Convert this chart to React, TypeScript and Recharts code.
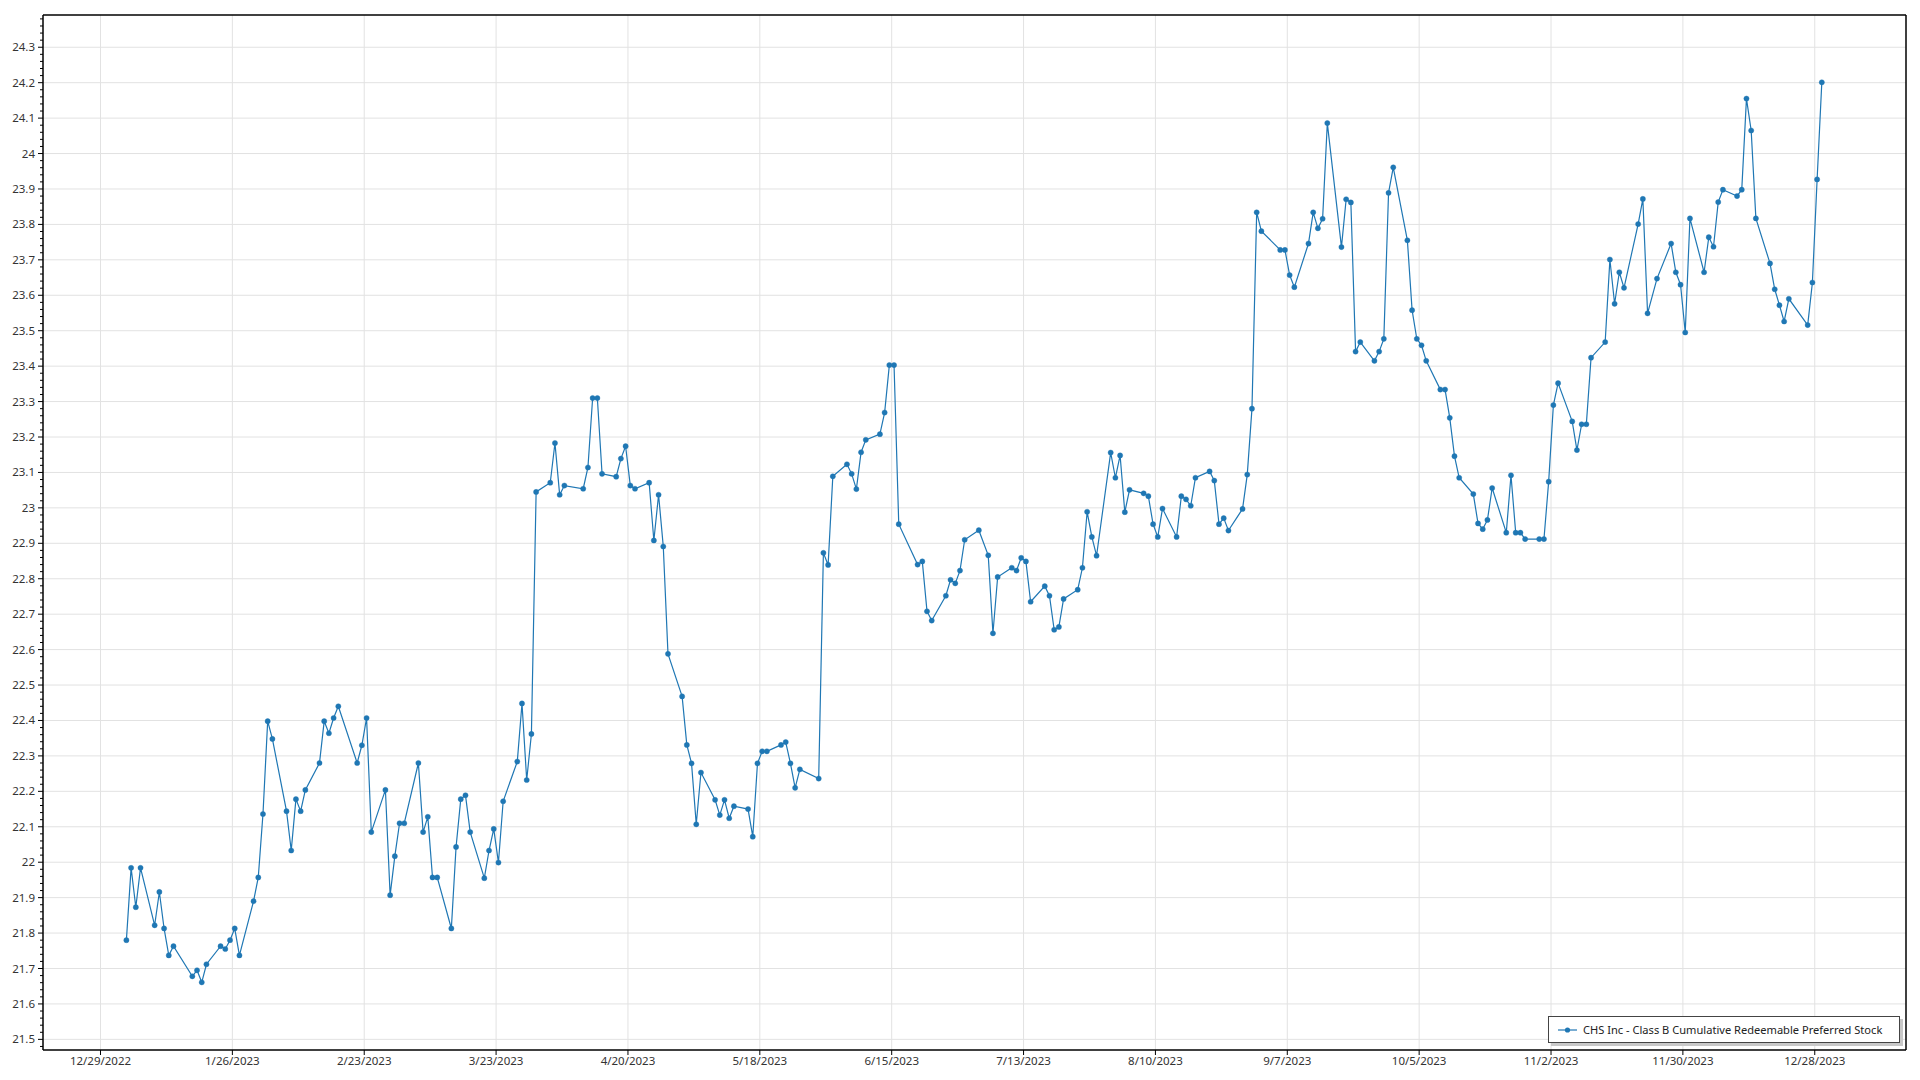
import React from 'react';
import { LineChart, Line, XAxis, YAxis, CartesianGrid, Legend, ReferenceLine } from 'recharts';

// Trading days per month (2023) and the matching prices
const JAN_DAYS = [3, 4, 5, 6, 9, 10, 11, 12, 13, 17, 18, 19, 20, 23, 24, 25, 26, 27, 30, 31];
const JAN_PRICES = [21.78, 21.984, 21.873, 21.984, 21.822, 21.916, 21.813, 21.737, 21.763, 21.678, 21.695, 21.661, 21.712, 21.763, 21.755, 21.78, 21.813, 21.737, 21.89, 21.957];

const FEB_DAYS = [1, 2, 3, 6, 7, 8, 9, 10, 13, 14, 15, 16, 17, 21, 22, 23, 24, 27, 28];
const FEB_PRICES = [22.136, 22.398, 22.348, 22.144, 22.033, 22.178, 22.144, 22.204, 22.28, 22.398, 22.364, 22.407, 22.44, 22.28, 22.33, 22.407, 22.085, 22.204, 21.907];

const MAR_DAYS = [1, 2, 3, 6, 7, 8, 9, 10, 13, 14, 15, 16, 17, 20, 21, 22, 23, 24, 27, 28, 29, 30, 31];
const MAR_PRICES = [22.017, 22.11, 22.11, 22.28, 22.085, 22.128, 21.957, 21.957, 21.813, 22.043, 22.178, 22.189, 22.085, 21.955, 22.033, 22.094, 21.999, 22.172, 22.284, 22.448, 22.232, 22.362, 23.045];

const APR_DAYS = [3, 4, 5, 6, 10, 11, 12, 13, 14, 17, 18, 19, 20, 21, 24, 25, 26, 27, 28];
const APR_PRICES = [23.071, 23.183, 23.037, 23.063, 23.054, 23.114, 23.31, 23.31, 23.096, 23.088, 23.139, 23.174, 23.063, 23.054, 23.071, 22.908, 23.037, 22.891, 22.588];

const MAY_DAYS = [1, 2, 3, 4, 5, 8, 9, 10, 11, 12, 15, 16, 17, 18, 19, 22, 23, 24, 25, 26, 30, 31];
const MAY_PRICES = [22.468, 22.331, 22.279, 22.107, 22.253, 22.176, 22.133, 22.176, 22.124, 22.158, 22.15, 22.072, 22.279, 22.313, 22.313, 22.331, 22.339, 22.279, 22.21, 22.262, 22.236, 22.873];

const JUN_DAYS = [1, 2, 5, 6, 7, 8, 9, 12, 13, 14, 15, 16, 20, 21, 22, 23, 26, 27, 28, 29, 30];
const JUN_PRICES = [22.839, 23.089, 23.123, 23.096, 23.053, 23.157, 23.192, 23.208, 23.269, 23.403, 23.403, 22.954, 22.84, 22.849, 22.708, 22.682, 22.752, 22.797, 22.787, 22.823, 22.91];

const JUL_DAYS = [3, 5, 6, 7, 10, 11, 12, 13, 14, 17, 18, 19, 20, 21, 24, 25, 26, 27, 28, 31];
const JUL_PRICES = [22.937, 22.866, 22.646, 22.805, 22.831, 22.823, 22.859, 22.849, 22.735, 22.779, 22.752, 22.656, 22.664, 22.743, 22.769, 22.831, 22.989, 22.918, 22.865, 23.156];

const AUG_DAYS = [1, 2, 3, 4, 7, 8, 9, 10, 11, 14, 15, 16, 17, 18, 21, 22, 23, 24, 25, 28, 29, 30, 31];
const AUG_PRICES = [23.085, 23.148, 22.988, 23.051, 23.041, 23.033, 22.954, 22.918, 22.998, 22.918, 23.033, 23.024, 23.006, 23.085, 23.103, 23.077, 22.954, 22.971, 22.936, 22.997, 23.094, 23.28, 23.834];

const SEP_DAYS = [1, 5, 6, 7, 8, 11, 12, 13, 14, 15, 18, 19, 20, 21, 22, 25, 26, 27, 28, 29];
const SEP_PRICES = [23.781, 23.728, 23.728, 23.657, 23.623, 23.746, 23.834, 23.789, 23.816, 24.086, 23.736, 23.871, 23.862, 23.441, 23.468, 23.415, 23.441, 23.477, 23.889, 23.961];

const OCT_DAYS = [2, 3, 4, 5, 6, 9, 10, 11, 12, 13, 16, 17, 18, 19, 20, 23, 24, 25, 26, 27, 30, 31];
const OCT_PRICES = [23.755, 23.558, 23.477, 23.459, 23.415, 23.334, 23.334, 23.254, 23.146, 23.085, 23.039, 22.956, 22.94, 22.966, 23.056, 22.93, 23.092, 22.93, 22.93, 22.912, 22.912, 22.912];

const NOV_DAYS = [1, 2, 3, 6, 7, 8, 9, 10, 13, 14, 15, 16, 17, 20, 21, 22, 24, 27, 28, 29, 30];
const NOV_PRICES = [23.074, 23.29, 23.352, 23.244, 23.163, 23.236, 23.236, 23.424, 23.468, 23.701, 23.576, 23.665, 23.621, 23.801, 23.872, 23.549, 23.647, 23.746, 23.665, 23.63, 23.495];

const DEC_DAYS = [1, 4, 5, 6, 7, 8, 11, 12, 13, 14, 15, 18, 19, 20, 21, 22, 26, 27, 28, 29];
const DEC_PRICES = [23.817, 23.665, 23.764, 23.737, 23.863, 23.898, 23.88, 23.898, 24.155, 24.065, 23.817, 23.69, 23.617, 23.572, 23.526, 23.59, 23.516, 23.636, 23.927, 24.201];

const X_TICK_DATES = ['2022-12-29', '2023-01-26', '2023-02-23', '2023-03-23', '2023-04-20', '2023-05-18', '2023-06-15', '2023-07-13', '2023-08-10', '2023-09-07', '2023-10-05', '2023-11-02', '2023-11-30', '2023-12-28'];
const Y_TICKS = [21.5, 21.6, 21.7, 21.8, 21.9, 22, 22.1, 22.2, 22.3, 22.4, 22.5, 22.6, 22.7, 22.8, 22.9, 23, 23.1, 23.2, 23.3, 23.4, 23.5, 23.6, 23.7, 23.8, 23.9, 24, 24.1, 24.2, 24.3];

const SERIES_NAME = 'CHS Inc - Class B Cumulative Redeemable Preferred Stock';
const BLUE = '#1f77b4';
const FONT = "'Noto Sans', 'DejaVu Sans', sans-serif";

const MONTHS: [number, number[], number[]][] = [
  [1, JAN_DAYS, JAN_PRICES], [2, FEB_DAYS, FEB_PRICES], [3, MAR_DAYS, MAR_PRICES],
  [4, APR_DAYS, APR_PRICES], [5, MAY_DAYS, MAY_PRICES], [6, JUN_DAYS, JUN_PRICES],
  [7, JUL_DAYS, JUL_PRICES], [8, AUG_DAYS, AUG_PRICES], [9, SEP_DAYS, SEP_PRICES],
  [10, OCT_DAYS, OCT_PRICES], [11, NOV_DAYS, NOV_PRICES], [12, DEC_DAYS, DEC_PRICES],
];

// points sit at mid-day, like the source chart
const data = MONTHS.flatMap(([m, days, prices]) =>
  days.map((d, i) => ({ t: Date.UTC(2023, m - 1, d, 12), price: prices[i] }))
);

const parseDate = (s: string) => {
  const [y, m, d] = s.split('-').map(Number);
  return Date.UTC(y, m - 1, d);
};
const xTicks = X_TICK_DATES.map(parseDate);

const X_MIN = Date.UTC(2022, 11, 16, 19);
const X_MAX = Date.UTC(2024, 0, 16, 9);
const Y_MIN = 21.47;
const Y_MAX = 24.391;

// minor ticks every 0.02 between the labelled ones
const minorTicks: number[] = [];
for (let v = 21.48; v < Y_MAX; v += 0.02) {
  const r = Math.round(v * 100) / 100;
  if (!Y_TICKS.some((t) => Math.abs(t - r) < 1e-6)) minorTicks.push(r);
}
const yAllTicks = [...Y_TICKS, ...minorTicks].sort((a, b) => a - b);

const TICK_SIZE = 5;
const TICK_MARGIN = 3;

const fmtDate = (t: number) => {
  const d = new Date(t);
  return `${d.getUTCMonth() + 1}/${d.getUTCDate()}/${d.getUTCFullYear()}`;
};

const YTick = (props: any) => {
  const { x, y, payload } = props;
  const v = payload.value as number;
  const major = Y_TICKS.some((t) => Math.abs(t - v) < 1e-6);
  const axisX = x + TICK_SIZE + TICK_MARGIN;
  return (
    <g>
      <line x1={axisX - (major ? 5 : 3)} x2={axisX} y1={y} y2={y} stroke="#000" strokeWidth={1} />
      {major && (
        <text x={x} y={y} dy={4} textAnchor="end" fill="#333" fontSize={11.5} fontFamily={FONT}>
          {String(v)}
        </text>
      )}
    </g>
  );
};

const LegendBox = () => (
  <div
    style={{
      width: 350,
      height: 25,
      border: '1px solid #444',
      background: '#fff',
      boxShadow: '3px 3px 0 #c8c8c8',
      display: 'flex',
      alignItems: 'center',
      fontFamily: FONT,
      fontSize: 11.1,
      color: '#222',
      whiteSpace: 'nowrap',
    }}
  >
    <svg width={26} height={12} style={{ marginLeft: 6 }}>
      <line x1={3} x2={22} y1={6} y2={6} stroke={BLUE} strokeOpacity={0.6} strokeWidth={2} />
      <circle cx={12.5} cy={6} r={2.6} fill={BLUE} />
    </svg>
    <span style={{ marginLeft: 2 }}>{SERIES_NAME}</span>
  </div>
);

export default function App() {
  return (
    <div style={{ position: 'absolute', left: 0, top: 0, width: 1920, height: 1080, background: '#fff' }}>
      <LineChart width={1920} height={1080} data={data} margin={{ top: 15, right: 14, bottom: 0, left: 0 }}>
        <CartesianGrid stroke="#e2e2e2" horizontalValues={Y_TICKS} verticalValues={xTicks} />
        <XAxis
          dataKey="t"
          type="number"
          scale="linear"
          domain={[X_MIN, X_MAX]}
          allowDataOverflow
          ticks={xTicks}
          interval={0}
          tickFormatter={fmtDate}
          height={30}
          tickSize={TICK_SIZE}
          tickMargin={2}
          axisLine={{ stroke: '#000', strokeWidth: 1.5 }}
          tickLine={{ stroke: '#000' }}
          tick={{ fill: '#333', fontSize: 11.5, fontFamily: FONT }}
        />
        <YAxis
          type="number"
          domain={[Y_MIN, Y_MAX]}
          allowDataOverflow
          ticks={yAllTicks}
          interval={0}
          width={43}
          tickSize={TICK_SIZE}
          tickMargin={TICK_MARGIN}
          tickLine={false}
          axisLine={{ stroke: '#000', strokeWidth: 1.5 }}
          tick={<YTick />}
        />
        <ReferenceLine y={Y_MAX} stroke="#000" strokeWidth={1.5} />
        <ReferenceLine x={X_MAX} stroke="#000" strokeWidth={1.5} />
        <Legend
          layout="vertical"
          verticalAlign="middle"
          align="center"
          content={<LegendBox />}
          wrapperStyle={{ left: 1548, top: 1016, width: 'auto' }}
        />
        <Line
          type="linear"
          dataKey="price"
          name={SERIES_NAME}
          stroke={BLUE}
          strokeWidth={1.2}
          dot={{ r: 2.6, fill: BLUE, stroke: BLUE, strokeWidth: 0.4 }}
          activeDot={false}
          isAnimationActive={false}
        />
      </LineChart>
    </div>
  );
}
